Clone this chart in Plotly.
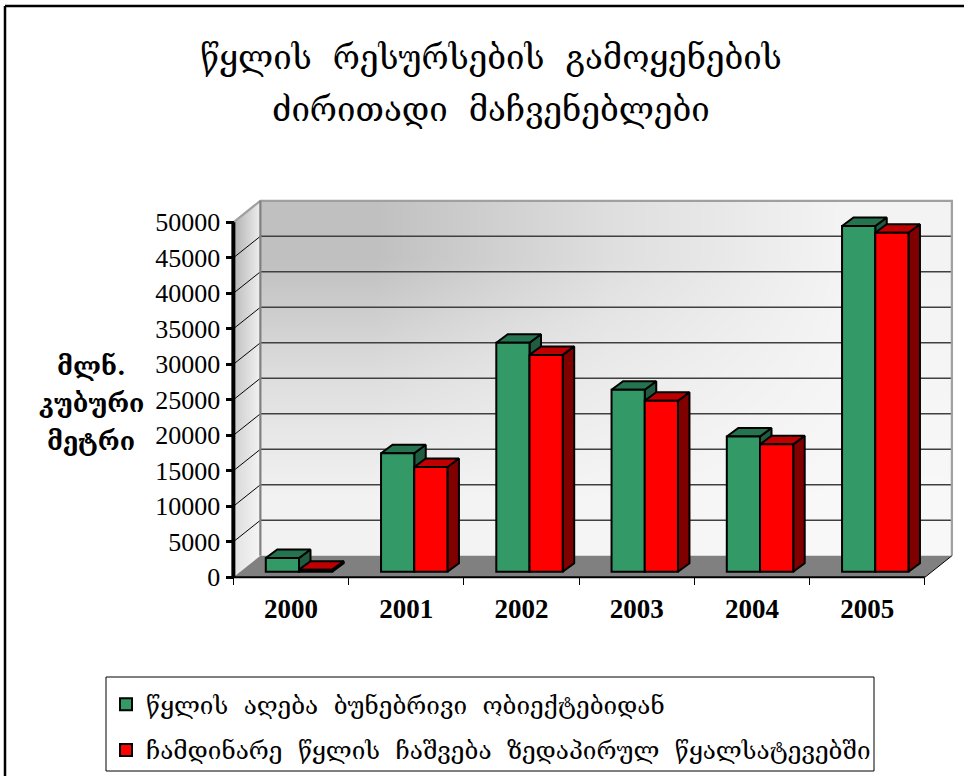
import plotly.graph_objects as go

# ---- data -------------------------------------------------------------
YEARS = ["2000", "2001", "2002", "2003", "2004", "2005"]
WITHDRAWAL = [1950, 16700, 32250, 25650, 19050, 48700]
DISCHARGE = [300, 14750, 30550, 24100, 17950, 47750]
Y_TICKS = [0, 5000, 10000, 15000, 20000, 25000, 30000, 35000, 40000, 45000, 50000]
TITLE_1 = "წყლის  რესურსების  გამოყენების"
TITLE_2 = "ძირითადი  მაჩვენებლები"
Y_LABEL_LINES = ["მლნ.", "კუბური", "მეტრი"]
NAME_1 = "წყლის  აღება  ბუნებრივი  ობიექტებიდან"
NAME_2 = "ჩამდინარე  წყლის  ჩაშვება  ზედაპირულ  წყალსატევებში"

# ---- style / geometry ---------------------------------------------------
W, H = 964, 776
GEO = "DejaVu Serif"
SERIF = "Liberation Serif"
PX_X0, PX_SLOT = 291.0, 115.25      # pixel of first category, pixels per category
PX_Y0, PX_UNIT = 577.3, 0.0071      # pixel of value 0, pixels per value unit
DX, DY = 27 / PX_SLOT, 21.5 / PX_UNIT   # depth of the chart box
BAR_W = 33.2 / PX_SLOT
BAR_SHIFT = 8 / PX_SLOT
BAR_DX, BAR_DY = 11.5 / PX_SLOT, 8.5 / PX_UNIT
BAR_BASE = 5.5 / PX_UNIT
XL, XR = -0.5, 5.5
YMAX = Y_TICKS[-1]
GREEN, GREEN_TOP, GREEN_SIDE = "#339966", "#267350", "#1f5c40"
RED, RED_TOP, RED_SIDE = "#ff0000", "#bf0000", "#800000"

fig = go.Figure()

# back wall gradient (cell edges given so that it stays inside the wall)
WALL_W = XR - XL
fig.add_trace(go.Heatmap(
    x=[XL + DX + WALL_W * f for f in (0, 0.33, 0.67, 1)],
    y=[DY + YMAX * f for f in (0, 0.33, 0.67, 1)],
    z=[[242, 245, 248], [222, 235, 245], [192, 222, 243]],
    zmin=0, zmax=255, colorscale=[[0, "#000000"], [1, "#ffffff"]],
    showscale=False, zsmooth="best", hoverinfo="skip"))


def poly(xs, ys, fill, line=None, width=0, **kw):
    fig.add_trace(go.Scatter(
        x=xs, y=ys, mode="lines", fill="toself" if fill else None,
        fillcolor=fill, line=dict(color=line or "rgba(0,0,0,0)", width=width),
        showlegend=False, hoverinfo="skip", **kw))


# left wall, one gradient band per tick interval
for lo, hi in zip(Y_TICKS[:-1], Y_TICKS[1:]):
    t = hi / YMAX
    g0 = int(232 - 56 * t)
    g1 = int(246 - 8 * t)
    fig.add_trace(go.Scatter(
        x=[XL, XL + DX, XL + DX, XL], y=[lo, lo + DY, hi + DY, hi],
        mode="lines", fill="toself", line=dict(width=0),
        fillgradient=dict(type="horizontal", colorscale=[
            [0, f"rgb({g0},{g0},{g0})"], [1, f"rgb({g1},{g1},{g1})"]]),
        showlegend=False, hoverinfo="skip"))

# floor
poly([XL, XL + DX, XR + DX, XR, XL], [0, DY, DY, 0, 0], "#808080")

# gridlines on the back wall and the side wall
for v in Y_TICKS[1:-1]:
    poly([XL + DX, XR + DX], [v + DY, v + DY], None, "#404040", 1.6)
    poly([XL, XL + DX], [v, v + DY], None, "#000000", 1)

# wall edges
poly([XL, XL + DX, XR + DX, XR + DX], [YMAX, YMAX + DY, YMAX + DY, DY], None, "#a0a0a0", 2.2)
poly([XL + DX, XL + DX], [DY, YMAX + DY], None, "#808080", 2.2)
poly([XR, XR + DX], [0, DY], None, "#000000", 1)

# axis lines
poly([XL, XL], [0, YMAX], None, "#000000", 4)
poly([XL, XR], [0, 0], None, "#000000", 2)


def extrusion(values, x_left, top_col, side_col, z):
    tx, ty, sx, sy = [], [], [], []
    for i, v in enumerate(values):
        l = i + BAR_SHIFT + x_left
        r = l + BAR_W
        top = BAR_BASE + v
        tx += [l, l + BAR_DX, r + BAR_DX, r, l, None]
        ty += [top, top + BAR_DY, top + BAR_DY, top, top, None]
        sx += [r, r + BAR_DX, r + BAR_DX, r, r, None]
        sy += [BAR_BASE, BAR_BASE + BAR_DY, top + BAR_DY, top, BAR_BASE, None]
    poly(sx, sy, side_col, "#000000", 2, zorder=z)
    poly(tx, ty, top_col, "#000000", 2, zorder=z)


extrusion(WITHDRAWAL, -BAR_W, GREEN_TOP, GREEN_SIDE, 1)
fig.add_trace(go.Bar(
    x=[i + BAR_SHIFT for i in range(len(YEARS))], y=WITHDRAWAL, base=BAR_BASE,
    width=BAR_W, offset=-BAR_W, name=NAME_1, zorder=2, legendgroup="a",
    marker=dict(color=GREEN, line=dict(color="#000000", width=2))))
extrusion(DISCHARGE, 0, RED_TOP, RED_SIDE, 3)
fig.add_trace(go.Bar(
    x=[i + BAR_SHIFT for i in range(len(YEARS))], y=DISCHARGE, base=BAR_BASE,
    width=BAR_W, offset=0, name=NAME_2, zorder=4, legendgroup="b",
    marker=dict(color=RED, line=dict(color="#000000", width=2))))

y_label_notes = [
    dict(text=f"<b>{line}</b>", xref="paper", yref="paper", x=91 / W, y=1 - py / H,
         xanchor="center", yanchor="middle", showarrow=False,
         font=dict(family=GEO, size=25, color="#000000"))
    for line, py in zip(Y_LABEL_LINES, (366, 403, 441))
]

fig.update_layout(
    width=W, height=H, margin=dict(l=0, r=0, t=0, b=0), autosize=False,
    paper_bgcolor="#ffffff", plot_bgcolor="#ffffff", barmode="overlay",
    title=dict(text=TITLE_1, x=491 / W, xanchor="center", y=1 - 57 / H, yanchor="middle",
               font=dict(family=GEO, size=33, color="#000000")),
    xaxis=dict(range=[-PX_X0 / PX_SLOT, (W - PX_X0) / PX_SLOT], domain=[0, 1],
               anchor="free", position=1 - PX_Y0 / H, showgrid=False, zeroline=False,
               showline=False, tickmode="array", tickvals=list(range(len(YEARS))),
               ticktext=[f"<b>{y}</b>" for y in YEARS], ticks="outside", ticklen=7,
               tickcolor="rgba(0,0,0,0)",
               tickfont=dict(family=SERIF, size=27, color="#000000"),
               minor=dict(tickmode="array", tickvals=[i - 0.5 for i in range(len(YEARS) + 1)],
                          ticks="outside", ticklen=7, tickwidth=1, tickcolor="#000000", showgrid=False)),
    yaxis=dict(range=[(PX_Y0 - H) / PX_UNIT, PX_Y0 / PX_UNIT], domain=[0, 1],
               anchor="free", position=233.5 / W, showgrid=False, zeroline=False,
               showline=False, tickmode="array", tickvals=Y_TICKS, ticktext=[str(v) for v in Y_TICKS],
               ticks="outside", ticklen=8, tickwidth=3, tickcolor="#000000",
               tickfont=dict(family=SERIF, size=26, color="#000000")),
    legend=dict(x=106 / W, y=1 - 682 / H, xanchor="left", yanchor="top",
                bgcolor="rgba(0,0,0,0)", borderwidth=0, tracegroupgap=11,
                font=dict(family=GEO, size=24.3, color="#000000"), traceorder="grouped"),
    annotations=[
        dict(text=TITLE_2, xref="paper", yref="paper", x=491 / W, y=1 - 110 / H,
             xanchor="center", yanchor="middle", showarrow=False,
             font=dict(family=GEO, size=33, color="#000000")),
    ] + y_label_notes,
    shapes=[
        dict(type="line", xref="paper", yref="paper", x0=5 / W, x1=1, y0=1 - 6 / H, y1=1 - 6 / H,
             line=dict(color="#000000", width=2.5)),
        dict(type="line", xref="paper", yref="paper", x0=5 / W, x1=5 / W, y0=0, y1=1 - 6 / H,
             line=dict(color="#000000", width=2.5)),
        dict(type="rect", xref="paper", yref="paper", x0=106 / W, x1=874 / W,
             y0=1 - 771 / H, y1=1 - 677 / H, line=dict(color="#000000", width=1)),
    ],
)

fig.write_html("out.html", config={"displayModeBar": False},
               post_script="document.body.style.margin='0';")
